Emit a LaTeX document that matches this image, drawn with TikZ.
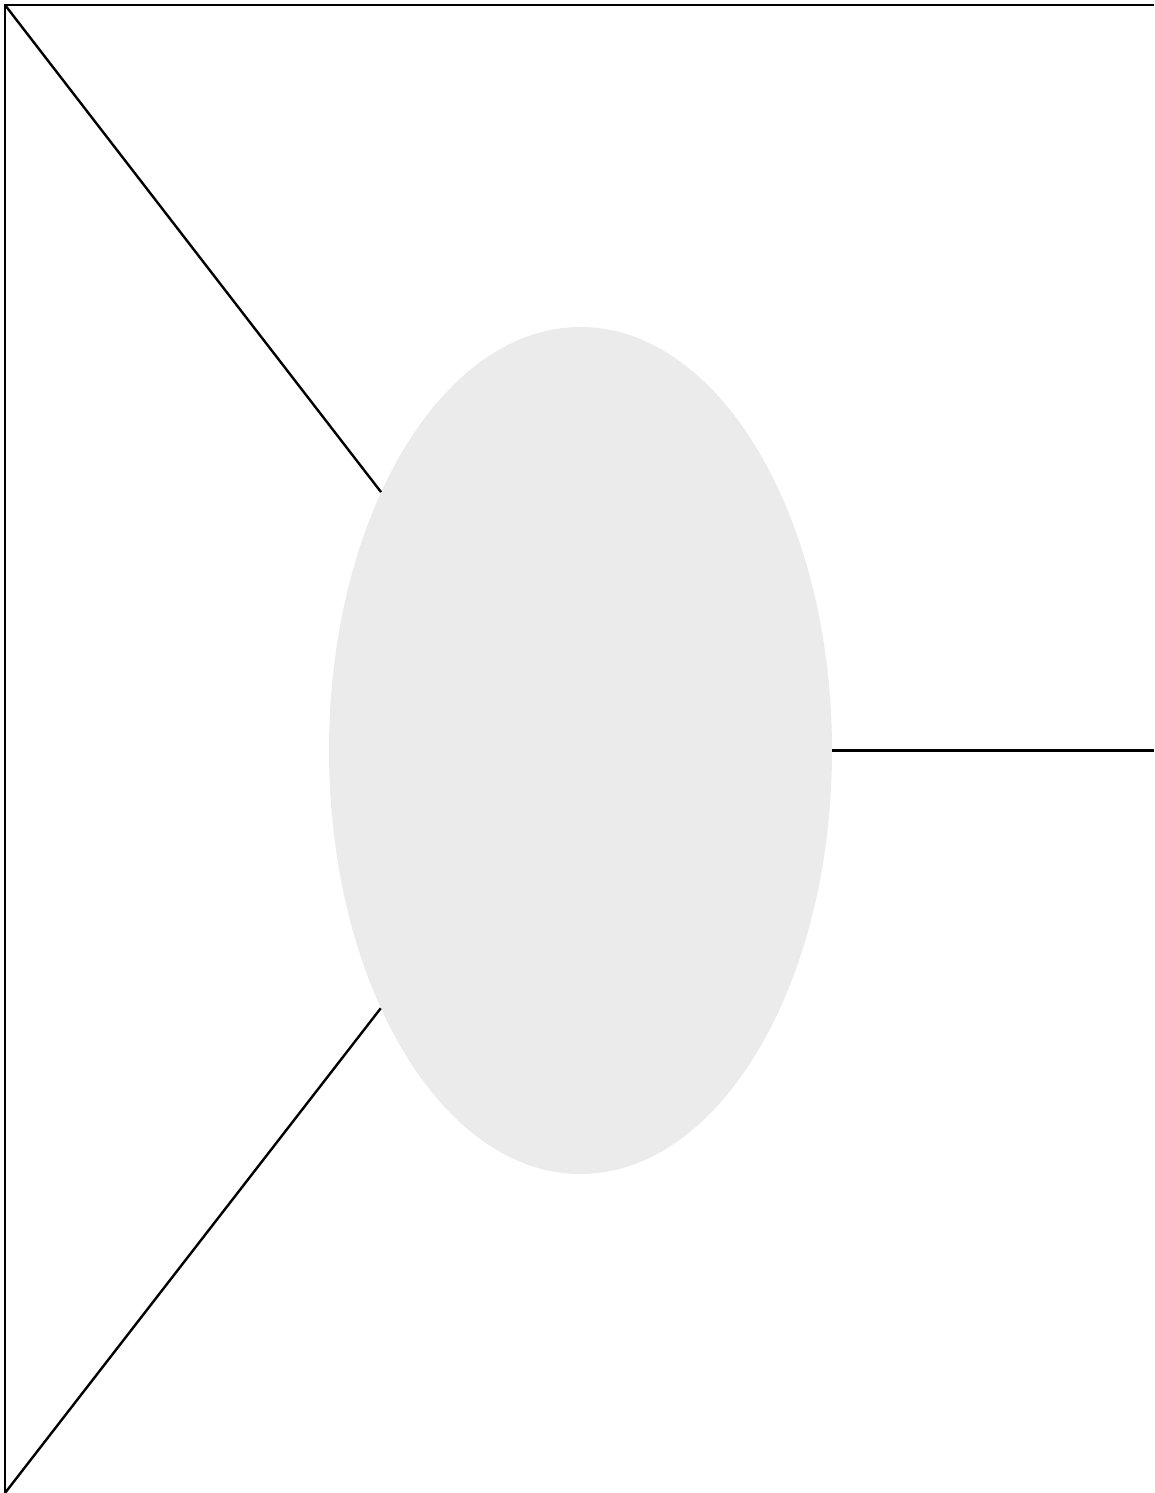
\documentclass[tikz,border=0pt]{standalone}
\usetikzlibrary{shapes.geometric}
\definecolor{ovalgray}{HTML}{EBEBEB}
\tikzset{
    oval/.style={ellipse, fill=ovalgray, draw=none, inner sep=0pt, minimum width=503pt, minimum height=847pt},
    edge/.style={line width=2.4pt, black}
}
\begin{document}
\begin{tikzpicture}[x=1pt, y=-1pt]
        
        \useasboundingbox (0,0) rectangle (1154,1493);
        
        % corners
        \coordinate (tl) at (5,5);
        \coordinate (tr) at (1154,5);
        \coordinate (bl) at (5,1493);
        \coordinate (rr) at (1154,750.5);
        
        % oval
        \node [oval] (o) at (580.5,750.5) {};
        
        % frame
        \draw [edge] (tr) -- (tl) -- (bl);
        
        % lines
        \draw [edge] (tl) -- (o);
        \draw [edge] (bl) -- (o);
        \draw [edge] (o.east) -- (rr);
    \end{tikzpicture}
\end{document}
